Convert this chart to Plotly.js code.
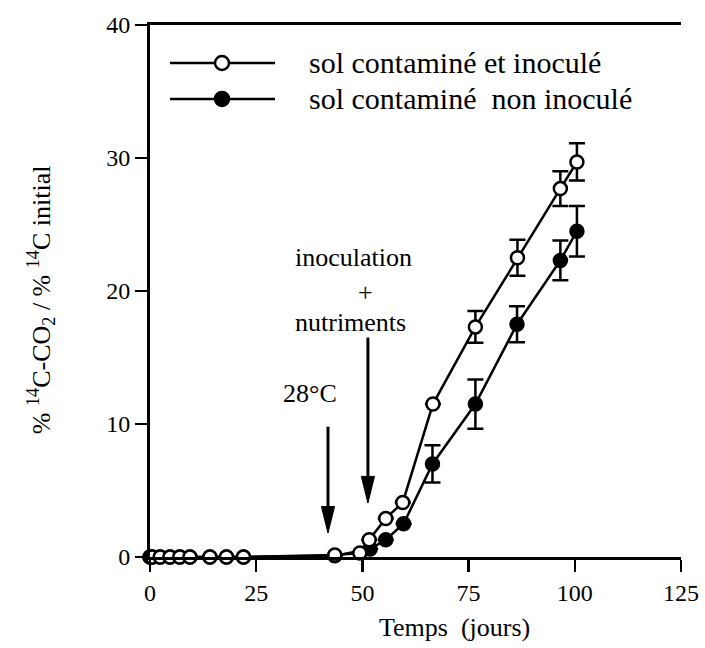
<!DOCTYPE html>
<html>
<head>
<meta charset="utf-8">
<script src="https://cdn.plot.ly/plotly-3.0.1.min.js"></script>
<style>html,body{margin:0;padding:0;background:#fff;}#chart{width:705px;height:648px;}</style>
</head>
<body>
<div id="chart"></div>
<script>
// Data
var daysInoc = [0, 0.5, 2.4, 4.7, 7, 9.4, 14.1, 18, 22, 43.5, 49.4, 51.6, 55.5, 59.5, 66.6, 76.6, 86.5, 96.6, 100.5];
var valInoc  = [0, 0, 0, 0, 0, 0, 0, 0, 0, 0.15, 0.3, 1.3, 2.9, 4.1, 11.5, 17.3, 22.5, 27.7, 29.7];
var errInoc  = [null, null, null, null, null, null, null, null, null, null, null, null, null, null, null, 1.2, 1.35, 1.3, 1.4];

var daysNon = [0, 0.5, 2.4, 4.7, 7, 9.4, 14.1, 18, 22, 43.5, 51.8, 55.5, 59.7, 66.5, 76.6, 86.4, 96.6, 100.5];
var valNon  = [0, 0, 0, 0, 0, 0, 0, 0, 0, 0.1, 0.6, 1.3, 2.5, 7.0, 11.5, 17.5, 22.3, 24.5];
var errNon  = [null, null, null, null, null, null, null, null, null, null, null, null, null, 1.4, 1.85, 1.35, 1.5, 1.9];

var seriesNames = ["sol contaminé et inoculé", "sol contaminé \u00a0non inoculé"];
var xTicks = [0, 25, 50, 75, 100, 125];
var yTicks = [0, 10, 20, 30, 40];

// note arrows: [x (days), top value, tip value]
var arrow28 = [41.9, 9.8, 1.8];
var arrowInoc = [51.3, 16.5, 4.06];

var FONT = "Liberation Serif, Times New Roman, serif";

var traceNon = {
  x: daysNon, y: valNon, type: "scatter", mode: "lines+markers",
  cliponaxis: false, showlegend: false,
  line: {color: "#000", width: 2.5},
  marker: {symbol: "circle", size: 13, color: "#000", line: {color: "#000", width: 2.5}},
  error_y: {type: "data", array: errNon, visible: true, color: "#000", thickness: 2.5, width: 8}
};
var traceInoc = {
  x: daysInoc, y: valInoc, type: "scatter", mode: "lines+markers",
  cliponaxis: false, showlegend: false,
  line: {color: "#000", width: 2.5},
  marker: {symbol: "circle", size: 13, color: "#fff", line: {color: "#000", width: 2.5}},
  error_y: {type: "data", array: errInoc, visible: true, color: "#000", thickness: 2.5, width: 8}
};

// legend geometry (paper coords)
var legRows = [0.9286, 0.861];
var legLineX0 = 0.0377, legLineX1 = 0.2354, legMarkX = 0.1356, legTextX = 0.2957;

var shapes = [];
var annotations = [];
legRows.forEach(function (ry, i) {
  shapes.push({type: "line", xref: "paper", yref: "paper", x0: legLineX0, x1: legLineX1, y0: ry, y1: ry,
    line: {color: "#000", width: 2.5}});
  shapes.push({type: "circle", xref: "paper", yref: "paper", xsizemode: "pixel", ysizemode: "pixel",
    xanchor: legMarkX, yanchor: ry, x0: -7, x1: 7, y0: -7, y1: 7,
    fillcolor: i === 0 ? "#fff" : "#000", line: {color: "#000", width: 2.5}});
  annotations.push({xref: "paper", yref: "paper", x: legTextX, y: ry, xanchor: "left", yanchor: "middle",
    showarrow: false, text: seriesNames[i], font: {family: FONT, size: 30, color: "#000"}});
});

// arrows drawn as shapes (shaft + filled head)
var HEAD_LEN = 2.0;   // value units (~27 px)
var HEAD_HALF = 1.55; // days (~6.5 px)
[arrow28, arrowInoc].forEach(function (a) {
  var x = a[0], top = a[1], tip = a[2], base = tip + HEAD_LEN;
  shapes.push({type: "line", xref: "x", yref: "y", x0: x, x1: x, y0: top, y1: base,
    line: {color: "#000", width: 3}});
  shapes.push({type: "path", xref: "x", yref: "y",
    path: "M " + (x - HEAD_HALF) + " " + base + " L " + (x + HEAD_HALF) + " " + base + " L " + x + " " + tip + " Z",
    fillcolor: "#000", line: {color: "#000", width: 1}});
});

// text notes
annotations.push({xref: "x", yref: "y", x: 37.6, y: 12.3, text: "28°C", showarrow: false,
  font: {family: FONT, size: 26, color: "#000"}});
annotations.push({xref: "x", yref: "y", x: 47.8, y: 22.5, text: "inoculation", showarrow: false,
  font: {family: FONT, size: 26, color: "#000"}});
annotations.push({xref: "x", yref: "y", x: 50.8, y: 19.85, text: "+", showarrow: false,
  font: {family: FONT, size: 26, color: "#000"}});
annotations.push({xref: "x", yref: "y", x: 47.1, y: 17.6, text: "nutriments", showarrow: false,
  font: {family: FONT, size: 26, color: "#000"}});

// axis titles
annotations.push({xref: "paper", yref: "paper", x: -0.205, y: 0.483, xanchor: "center", yanchor: "middle",
  textangle: -90, showarrow: false,
  text: "% <sup>14</sup>C-CO<sub>2</sub> / % <sup>14</sup>C initial",
  font: {family: FONT, size: 26, color: "#000"}});
annotations.push({xref: "paper", yref: "paper", x: 0.574, y: -0.133, xanchor: "center", yanchor: "middle",
  showarrow: false, text: "Temps \u00a0(jours)", font: {family: FONT, size: 26, color: "#000"}});

var layout = {
  width: 705, height: 648,
  margin: {l: 150, r: 24, t: 25, b: 91, pad: 0},
  paper_bgcolor: "#fff", plot_bgcolor: "#fff",
  showlegend: false,
  xaxis: {range: [0, 125], tickmode: "array", tickvals: xTicks, ticktext: xTicks.map(String),
    showgrid: false, zeroline: false, showline: true, linecolor: "#000", linewidth: 3, mirror: true,
    ticks: "outside", ticklen: 12, tickwidth: 2.5, tickcolor: "#000",
    tickfont: {family: FONT, size: 24, color: "#000"}},
  yaxis: {range: [0, 40], tickmode: "array", tickvals: yTicks, ticktext: yTicks.map(String),
    showgrid: false, zeroline: false, showline: true, linecolor: "#000", linewidth: 3, mirror: false,
    ticks: "outside", ticklen: 12, tickwidth: 2.5, tickcolor: "#000",
    tickfont: {family: FONT, size: 24, color: "#000"}},
  shapes: shapes,
  annotations: annotations
};

Plotly.newPlot("chart", [traceNon, traceInoc], layout, {staticPlot: true, displayModeBar: false});
</script>
</body>
</html>
